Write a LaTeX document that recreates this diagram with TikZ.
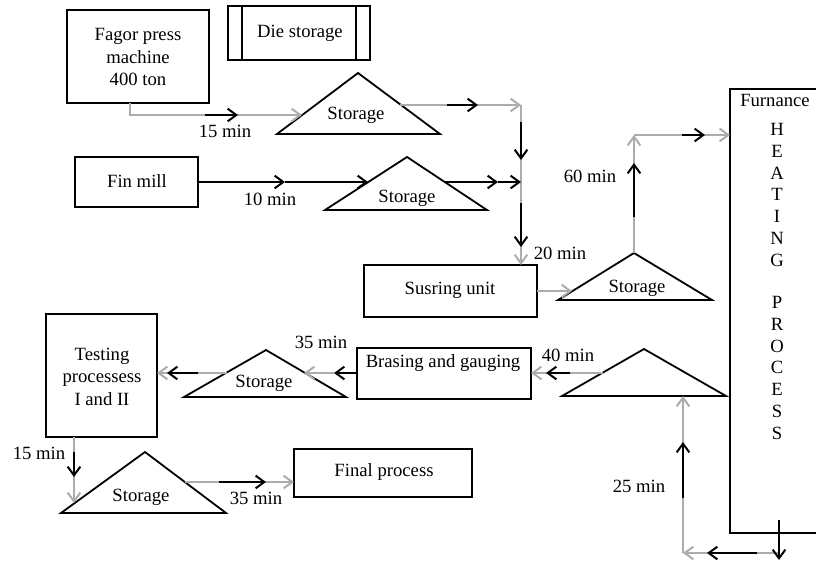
\documentclass[tikz,border=0pt]{standalone}
\usepackage{fontspec}
\setmainfont{Liberation Serif}
\usetikzlibrary{arrows.meta}
\definecolor{lgray}{RGB}{172,172,172}
\begin{document}
\begin{tikzpicture}[x=0.75pt,y=-0.75pt,
  font=\fontsize{14pt}{16.9pt}\selectfont,
  >={Straight Barb[length=6.5pt,width=9.5pt]},
  box/.style={draw,line width=1.35pt,inner sep=0pt},
  lbl/.style={inner sep=0pt,text height=9.5pt,text depth=3pt},
  ml/.style={inner sep=0pt,align=center},
  tri/.style={draw,line width=1.35pt,line join=miter},
  gln/.style={draw=lgray,line width=1.5pt},
  bln/.style={draw=black,line width=1.5pt},
]
\useasboundingbox (0,0) rectangle (816,564);

% ---------- boxes ----------
\node[box,minimum width=106.5pt,minimum height=69.75pt] (fagor) at (138,56.5) {};
\node[ml] (fagortxt) at (138,57) {Fagor press\\machine\\400 ton};
\node[box,minimum width=106.5pt,minimum height=40.5pt] (die) at (299,33) {};
\node[lbl] (dietxt) at (300,33) {Die storage};
\draw[line width=1.35pt] ([xshift=11.25pt]die.north west) -- ([xshift=11.25pt]die.south west);
\draw[line width=1.35pt] ([xshift=-11.25pt]die.north east) -- ([xshift=-11.25pt]die.south east);
\node[box,minimum width=92.25pt,minimum height=37.5pt] (fin) at (136.5,182) {};
\node[lbl] (fintxt) at (137,183) {Fin mill};
\node[box,minimum width=129.75pt,minimum height=39pt] (susring) at (450.5,291) {};
\node[lbl] (susringtxt) at (450,290) {Susring unit};
\node[box,minimum width=130.5pt,minimum height=38.25pt] (brasing) at (444,373.5) {};
\node[lbl] (brasingtxt) at (443,363) {Brasing and gauging};
\node[box,minimum width=83.25pt,minimum height=92.25pt] (testing) at (101.5,375.5) {};
\node[ml] (testingtxt) at (102,376.5) {Testing\\processess\\I and II};
\node[box,minimum width=133.5pt,minimum height=36pt] (final) at (383,473) {};
\node[lbl] (finaltxt) at (384,472) {Final process};
\node[box,minimum width=75pt,minimum height=333pt] (furn) at (780,311) {};
\node[lbl] (furntxt) at (775,102) {Furnance};
\foreach \l [count=\i] in {H,E,A,T,I,N,G}
  \node[lbl] (ha\i) at (777,{131.5+21.7*(\i-1)}) {\l};
\foreach \l [count=\i] in {P,R,O,C,E,S,S}
  \node[lbl] (pr\i) at (777,{304.5+21.7*(\i-1)}) {\l};

% ---------- triangles ----------
\coordinate (t1l) at (277,134); \coordinate (t1t) at (358,73); \coordinate (t1r) at (440,134);
\draw[tri] (t1l) -- (t1t) -- (t1r) -- cycle;
\node[lbl] (t1txt) at (356,115) {Storage};
\coordinate (t2l) at (325,210); \coordinate (t2t) at (407,157); \coordinate (t2r) at (487,210);
\draw[tri] (t2l) -- (t2t) -- (t2r) -- cycle;
\node[lbl] (t2txt) at (407,198) {Storage};
\coordinate (t3l) at (558,300); \coordinate (t3t) at (634,253); \coordinate (t3r) at (712,300);
\draw[tri] (t3l) -- (t3t) -- (t3r) -- cycle;
\node[lbl] (t3txt) at (637,288) {Storage};
\coordinate (t4l) at (562,396); \coordinate (t4t) at (644,349); \coordinate (t4r) at (726,396);
\draw[tri] (t4l) -- (t4t) -- (t4r) -- cycle;
\coordinate (t5l) at (184,397); \coordinate (t5t) at (266,350); \coordinate (t5r) at (346,397);
\draw[tri] (t5l) -- (t5t) -- (t5r) -- cycle;
\node[lbl] (t5txt) at (264,383) {Storage};
\coordinate (t6l) at (61,513); \coordinate (t6t) at (145,452); \coordinate (t6r) at (226,513);
\draw[tri] (t6l) -- (t6t) -- (t6r) -- cycle;
\node[lbl] (t6txt) at (141,497) {Storage};

% ---------- connector points ----------
\coordinate (c1a) at (130,103); \coordinate (c1b) at (130,115); \coordinate (c1e) at (302,115);
\coordinate (c1k) at (205,115); \coordinate (c1m) at (238,115);
\coordinate (c2a) at (400,105); \coordinate (c2b) at (521,105); \coordinate (c2e) at (521,265);
\coordinate (c2k) at (447,105); \coordinate (c2m) at (478,105);
\coordinate (c2k2) at (521,122); \coordinate (c2m2) at (521,160);
\coordinate (c2k3) at (521,203); \coordinate (c2m3) at (521,247);
\coordinate (jn) at (521,182);
\coordinate (c3m) at (285,182); \coordinate (c3e) at (368,182);
\coordinate (c4a) at (445,182); \coordinate (c4m) at (498,182);
\coordinate (c5b) at (634,135); \coordinate (c5e) at (730,135);
\coordinate (c5k) at (634,217); \coordinate (c5m) at (634,163);
\coordinate (c5k2) at (682,135); \coordinate (c5m2) at (705,135);
\coordinate (c6a) at (537,291); \coordinate (c6e) at (572,291);
\coordinate (c7a) at (779,520); \coordinate (c7d) at (779,560);
\coordinate (c7s) at (779,553); \coordinate (c7b) at (683,553); \coordinate (c7e) at (683,396);
\coordinate (c7k) at (757,553); \coordinate (c7m) at (707,553);
\coordinate (c7k2) at (683,498); \coordinate (c7m2) at (683,442);
\coordinate (c8a) at (603,373); \coordinate (c8e) at (531,373);
\coordinate (c8k) at (570,373); \coordinate (c8m) at (546,373);
\coordinate (c9a) at (357,373); \coordinate (c9m) at (334,373); \coordinate (c9e) at (304,373);
\coordinate (c10a) at (227,373); \coordinate (c10e) at (157,373);
\coordinate (c10k) at (198,373); \coordinate (c10m) at (167,373);
\coordinate (c11a) at (74,437); \coordinate (c11e) at (74,503);
\coordinate (c11k) at (74,452); \coordinate (c11m) at (74,477);
\coordinate (c12a) at (185,482); \coordinate (c12e) at (294,482);
\coordinate (c12k) at (219,482); \coordinate (c12m) at (266,482);

% ---------- connectors ----------
\draw[gln,->] (c1a) -- (c1b) -- (c1e);
\draw[bln,->] (c1k) -- (c1m);
\draw[gln,->] (c2a) -- (c2b);
\draw[gln,->] (c2b) -- (c2e);
\draw[bln,->] (c2k) -- (c2m);
\draw[bln,->] (c2k2) -- (c2m2);
\draw[bln,->] (c2k3) -- (c2m3);
\draw[bln,->] (fin.east) -- (c3m);
\draw[bln,->] (c3m) -- (c3e);
\draw[bln,->] (c4a) -- (c4m);
\draw[bln,->] (c4m) -- (jn);
\draw[gln,->] (t3t) -- (c5b);
\draw[gln,->] (c5b) -- (c5e);
\draw[bln,->] (c5k) -- (c5m);
\draw[bln,->] (c5k2) -- (c5m2);
\draw[gln,->] (c6a) -- (c6e);
\draw[gln,->] (c7s) -- (c7b);
\draw[gln,->] (c7b) -- (c7e);
\draw[bln,->] (c7a) -- (c7d);
\draw[bln,->] (c7k) -- (c7m);
\draw[bln,->] (c7k2) -- (c7m2);
\draw[gln,->] (c8a) -- (c8e);
\draw[bln,->] (c8k) -- (c8m);
\draw[gln,->] (c9m) -- (c9e);
\draw[bln,->] (c9a) -- (c9m);
\draw[gln,->] (c10a) -- (c10e);
\draw[bln,->] (c10k) -- (c10m);
\draw[gln,->] (c11a) -- (c11e);
\draw[bln,->] (c11k) -- (c11m);
\draw[gln,->] (c12a) -- (c12e);
\draw[bln,->] (c12k) -- (c12m);

% ---------- labels ----------
\node[lbl] (l1) at (225,133) {15 min};
\node[lbl] (l2) at (270,201) {10 min};
\node[lbl] (l3) at (560,255) {20 min};
\node[lbl] (l4) at (590,178) {60 min};
\node[lbl] (l5) at (568,357) {40 min};
\node[lbl] (l6) at (321,344) {35 min};
\node[lbl] (l7) at (639,488) {25 min};
\node[lbl] (l8) at (39,455) {15 min};
\node[lbl] (l9) at (256,500) {35 min};
\end{tikzpicture}
\end{document}
